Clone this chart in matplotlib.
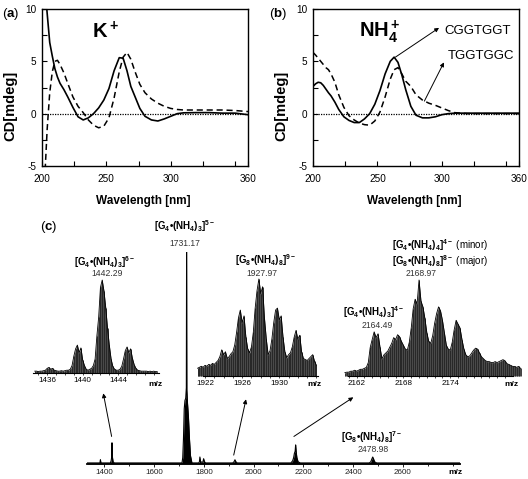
import matplotlib
matplotlib.use("Agg")
import matplotlib.pyplot as plt
import numpy as np

plt.rcParams['font.family'] = ['Liberation Sans', 'DejaVu Sans']
plt.rcParams['mathtext.fontset'] = 'custom'
plt.rcParams['mathtext.rm'] = 'Liberation Sans:bold'
plt.rcParams['mathtext.it'] = 'Liberation Sans:bold'
plt.rcParams['mathtext.bf'] = 'Liberation Sans:bold'
plt.rcParams['mathtext.default'] = 'rm'
plt.rcParams['axes.unicode_minus'] = False

W, H = 528, 479

# --- CD spectra (a) K+ and (b) NH4+ ---
cd_wl = [200, 202, 204, 206, 208, 210, 212, 214, 217, 220, 224, 228, 232, 236,
         240, 244, 248, 252, 256, 260, 263, 266, 269, 272, 276, 280, 285, 290,
         295, 300, 305, 310, 320, 330, 340, 350, 360]

k_solid = [16, 12.5, 9.6, 6.8, 5.5, 4.3, 3.5, 2.9, 2.3, 1.6, 0.6, -0.3, -0.6, -0.4,
           0.0, 0.55, 1.3, 2.4, 4.1, 5.35, 5.3, 4.1, 2.6, 1.7, 0.5, -0.25, -0.6, -0.7,
           -0.5, -0.25, 0.0, 0.08, 0.1, 0.1, 0.05, 0.05, -0.1]
k_dashed = [-12, -6.5, -1.5, 2.0, 4.0, 5.0, 5.1, 4.7, 3.9, 2.9, 1.6, 0.7, 0.1, -0.6,
            -1.1, -1.35, -1.2, -0.4, 1.5, 4.0, 5.4, 5.85, 5.2, 4.1, 2.8, 2.0, 1.4, 1.0,
            0.7, 0.5, 0.4, 0.35, 0.35, 0.35, 0.35, 0.3, 0.2]

nh4_solid = [2.6, 2.85, 3.0, 2.95, 2.7, 2.35, 2.0, 1.7, 1.1, 0.4, -0.3, -0.65, -0.85, -0.85,
             -0.5, 0.0, 0.9, 2.2, 3.8, 5.0, 5.4, 4.9, 3.7, 2.3, 0.7, -0.15, -0.4, -0.4,
             -0.3, -0.1, 0.0, 0.05, 0.05, 0.05, 0.05, 0.05, 0.05]
nh4_dashed = [5.85, 5.6, 5.3, 5.0, 4.7, 4.4, 4.2, 3.8, 3.0, 1.8, 0.6, -0.2, -0.6, -0.9,
              -1.05, -1.1, -0.7, 0.15, 1.6, 3.3, 4.2, 4.4, 3.8, 3.1, 2.6, 1.8, 1.3, 1.0,
              0.8, 0.55, 0.3, 0.1, 0.0, 0.0, 0.0, 0.0, 0.0]

# --- ESI-MS full spectrum (c) ---
main_mz = [1330, 1382, 1384, 1386, 1424, 1427, 1429, 1430.5, 1432, 1435, 1440,
           1712, 1715, 1718, 1721, 1724, 1727, 1729.5, 1730.5, 1731.5, 1734, 1738, 1742, 1746, 1752,
           1779, 1782, 1784, 1787, 1796, 1799, 1802, 1806,
           1916, 1921, 1925, 1929, 1934,
           2150, 2157, 2161, 2164, 2167, 2169, 2171, 2174, 2179, 2188,
           2465, 2471, 2476, 2479, 2482, 2487, 2495, 2830]
main_int = [0.5, 0.5, 2, 0.5, 0.5, 1.5, 3, 10, 3.5, 1, 0.5,
            0.5, 3, 12, 26, 30, 31, 36, 100, 35, 29, 22, 12, 4, 0.5,
            0.5, 1, 3.3, 1, 0.8, 2.5, 1.2, 0.5,
            0.5, 1, 2, 1, 0.5,
            0.5, 1.5, 3, 5, 6, 9, 6, 3, 1, 0.5,
            0.5, 1, 2.5, 3.3, 2.5, 1, 0.5, 0.5]
main_ticks = [1400, 1600, 1800, 2000, 2200, 2400, 2600]

# zoomed insets (profile sampled on a regular m/z grid)
ins1_start, ins1_step = 1434.6, 0.2
ins1_int = [2, 2, 1.5, 2, 2, 2.5, 3, 5, 6, 4,
            5, 3, 2.5, 2, 2, 2.5, 2, 2.5, 3, 3,
            4, 8, 18, 26, 30, 22, 27, 14, 8, 4,
            3, 4, 5, 8, 15, 40, 60, 92, 100, 88,
            70, 48, 30, 15, 7, 4, 3, 3, 4, 7,
            15, 24, 28, 22, 26, 16, 9, 5, 3, 2.5,
            2, 2, 2, 2, 1.5, 2, 1.5, 2, 1.5, 1.5]
ins1_ticks = [1436, 1440, 1444]

ins2_start, ins2_step = 1921.2, 0.2
ins2_int = [8, 9, 10, 9, 11, 10, 12, 11, 13, 12,
            14, 16, 20, 27, 22, 25, 18, 20, 23, 25,
            32, 45, 60, 68, 55, 62, 40, 28, 24, 30,
            45, 70, 88, 100, 85, 92, 60, 38, 22, 26,
            38, 55, 68, 70, 58, 62, 40, 25, 19, 22,
            24, 30, 40, 47, 38, 42, 25, 18, 17, 16,
            18, 20, 22, 15, 11]
ins2_ticks = [1922, 1926, 1930]

ins3_start, ins3_step = 2160.5, 0.25
ins3_int = [3.5, 4, 4, 5, 5, 6, 5, 6, 7, 7,
            8, 9, 14, 30, 38, 46, 40, 44, 30, 18,
            22, 24, 26, 30, 34, 40, 38, 43, 41, 36,
            32, 28, 27, 35, 50, 70, 80, 75, 100, 78,
            72, 60, 45, 36, 34, 42, 55, 65, 72, 68,
            58, 45, 32, 28, 27, 35, 48, 58, 54, 50,
            38, 28, 22, 20, 21, 24, 27, 29, 28, 24,
            20, 18, 16, 15, 15, 14, 14, 15, 14, 15,
            16, 17, 16, 13, 12, 11, 10, 10, 9, 10,
            8]
ins3_ticks = [2162, 2168, 2174]


def fx(x):
    return x / W


def fy(y):
    return 1 - y / H


def box(x0, y0, x1, y1):
    # pixel box (top-down) -> figure fraction rect
    return [fx(x0), fy(y1), (x1 - x0) / W, (y1 - y0) / H]


fig = plt.figure(figsize=(W / 100, H / 100), dpi=100)


def cd_panel(rect, solid, dashed):
    ax = fig.add_axes(rect)
    ax.plot(cd_wl, solid, color='k', lw=1.2)
    ax.plot(cd_wl, dashed, color='k', lw=1.1, ls=(0, (4, 2.5)))
    ax.axhline(0, color='k', lw=0.9, ls=(0, (1, 1)))
    ax.set_xlim(200, 360)
    ax.set_ylim(-5, 10)
    ax.set_xticks([200, 250, 300, 360])
    ax.set_xticks([225, 275, 325, 350], minor=True)
    ax.set_yticks([-5, 0, 5, 10])
    ax.set_yticks([-2.5, 2.5, 7.5], minor=True)
    ax.tick_params(which='both', direction='in', length=3.5, width=0.8, labelsize=7.2)
    ax.tick_params(axis='x', which='both', pad=6)
    ax.tick_params(axis='y', which='both', pad=4)
    for s in ax.spines.values():
        s.set_linewidth(1.0)
    ax.set_xlabel('Wavelength [nm]', fontsize=8.5, fontweight='bold')
    ax.set_ylabel('CD[mdeg]', fontsize=10.5, fontweight='bold')
    ax.xaxis.set_label_coords(0.49, -0.185)
    ax.yaxis.set_label_coords(-0.12, 0.38)
    return ax


ax_a = cd_panel(box(42, 9, 248, 166), k_solid, k_dashed)
ax_b = cd_panel(box(313, 9, 519, 166), nh4_solid, nh4_dashed)

ax_a.text(238.8, 7.8, '$K^+$', fontsize=14.5, ha='left', va='center')
ax_b.text(235.7, 7.8, '$NH_4^+$', fontsize=14.5, ha='left', va='center')

arrow = dict(arrowstyle='-|>', color='k', lw=0.7, mutation_scale=6, shrinkA=0, shrinkB=0)
ax_b.annotate('', xy=(297.9, 8.2), xytext=(264, 5.4), arrowprops=arrow, annotation_clip=False)
ax_b.annotate('', xy=(301.7, 4.9), xytext=(286.5, 1.2), arrowprops=arrow, annotation_clip=False)
ax_b.text(301.7, 7.9, 'CGGTGGT', fontsize=9.5, ha='left', va='center')
ax_b.text(304.3, 5.5, 'TGGTGGC', fontsize=9.5, ha='left', va='center')

fig.text(fx(2), fy(14), '($a$)', fontsize=9.5, ha='left', va='center')
fig.text(fx(269), fy(14), '($b$)', fontsize=9.5, ha='left', va='center')
fig.text(fx(40), fy(227), '($c$)', fontsize=9.5, ha='left', va='center')

# --- main mass spectrum ---
ax_m = fig.add_axes(box(87, 252, 460, 464))
ax_m.fill_between(main_mz, 0, main_int, color='k', lw=0)
ax_m.plot(main_mz, main_int, color='k', lw=0.8)
ax_m.set_xlim(1330, 2830)
ax_m.set_ylim(0, 100)
for side in ['left', 'right', 'top']:
    ax_m.spines[side].set_visible(False)
ax_m.spines['bottom'].set_linewidth(1.3)
ax_m.set_yticks([])
ax_m.set_xticks(main_ticks)
ax_m.set_xticks(np.arange(1400, 2801, 100), minor=True)
ax_m.tick_params(axis='x', which='major', direction='out', length=2, width=0.7,
                 labelsize=5.8, pad=1.5, colors='#222')
ax_m.tick_params(axis='x', which='minor', direction='out', length=1.5, width=0.6)
fig.text(fx(455), fy(473), 'm/z', fontsize=6, fontweight='bold', ha='center', va='center')


def inset(rect, start, step, vals, xlim, ticks, mz_x):
    ax = fig.add_axes(rect)
    mz = start + step * np.arange(len(vals))
    ax.fill_between(mz, 0, vals, color='#4a4a4a', lw=0, clip_on=False)
    ax.vlines(mz, 0, vals, color='#222', lw=0.6, clip_on=False)
    ax.plot(mz, vals, color='k', lw=0.6, clip_on=False)
    ax.set_xlim(*xlim)
    ax.set_ylim(0, 100)
    for side in ['left', 'right', 'top']:
        ax.spines[side].set_visible(False)
    ax.spines['bottom'].set_linewidth(0.8)
    ax.set_yticks([])
    ax.set_xticks(ticks)
    ax.set_xticks(np.arange(np.ceil(xlim[0]), xlim[1], 1), minor=True)
    ax.tick_params(axis='x', which='both', direction='out', length=1.5, width=0.5,
                   labelsize=5.8, pad=1.5)
    ax.patch.set_alpha(0)
    fig.text(fx(mz_x), fy(384), 'm/z', fontsize=6, fontweight='bold', ha='center', va='center')
    return ax


inset(box(33, 280, 159, 373), ins1_start, ins1_step, ins1_int, (1434.4, 1448.6), ins1_ticks, 155)
inset(box(202.7, 279, 318.3, 376), ins2_start, ins2_step, ins2_int, (1921.75, 1934.2), ins2_ticks, 314)
inset(box(348, 280, 512.7, 376), ins3_start, ins3_step, ins3_int, (2160.9, 2182.0), ins3_ticks, 511.7)

# arrows from full spectrum peaks up to the insets
ax_m.annotate('', xy=(fx(103.3), fy(393.3)), xycoords='figure fraction',
              xytext=(1429, 13), textcoords='data', arrowprops=arrow, annotation_clip=False)
ax_m.annotate('', xy=(fx(246), fy(399.3)), xycoords='figure fraction',
              xytext=(1920, 4.2), textcoords='data', arrowprops=arrow, annotation_clip=False)
ax_m.annotate('', xy=(fx(353.3), fy(397.3)), xycoords='figure fraction',
              xytext=(2162, 13), textcoords='data', arrowprops=arrow, annotation_clip=False)

# peak annotations
lab = 7
num = 6.2
fig.text(fx(185), fy(226), r'$[G_4•(NH_4)_3]^{5-}$', fontsize=lab, ha='center', va='center')
fig.text(fx(185), fy(243), '1731.17', fontsize=num, ha='center', va='center', color='#333')
fig.text(fx(105), fy(262), r'$[G_4•(NH_4)_3]^{6-}$', fontsize=lab, ha='center', va='center')
fig.text(fx(107), fy(274), '1442.29', fontsize=num, ha='center', va='center', color='#333')
fig.text(fx(266), fy(260), r'$[G_8•(NH_4)_8]^{9-}$', fontsize=lab, ha='center', va='center')
fig.text(fx(262), fy(273), '1927.97', fontsize=num, ha='center', va='center', color='#333')
fig.text(fx(392), fy(245), r'$[G_4•(NH_4)_4]^{4-}$ (minor)', fontsize=lab, ha='left', va='center')
fig.text(fx(392), fy(260.7), r'$[G_8•(NH_4)_8]^{8-}$ (major)', fontsize=lab, ha='left', va='center')
fig.text(fx(421), fy(273), '2168.97', fontsize=num, ha='center', va='center', color='#333')
fig.text(fx(374), fy(311.7), r'$[G_4•(NH_4)_3]^{4-}$', fontsize=lab, ha='center', va='center')
fig.text(fx(377), fy(325), '2164.49', fontsize=num, ha='center', va='center', color='#333')
fig.text(fx(372), fy(436.7), r'$[G_8•(NH_4)_8]^{7-}$', fontsize=lab, ha='center', va='center')
fig.text(fx(373), fy(450), '2478.98', fontsize=num, ha='center', va='center', color='#333')

fig.savefig('out.png', dpi=100)
